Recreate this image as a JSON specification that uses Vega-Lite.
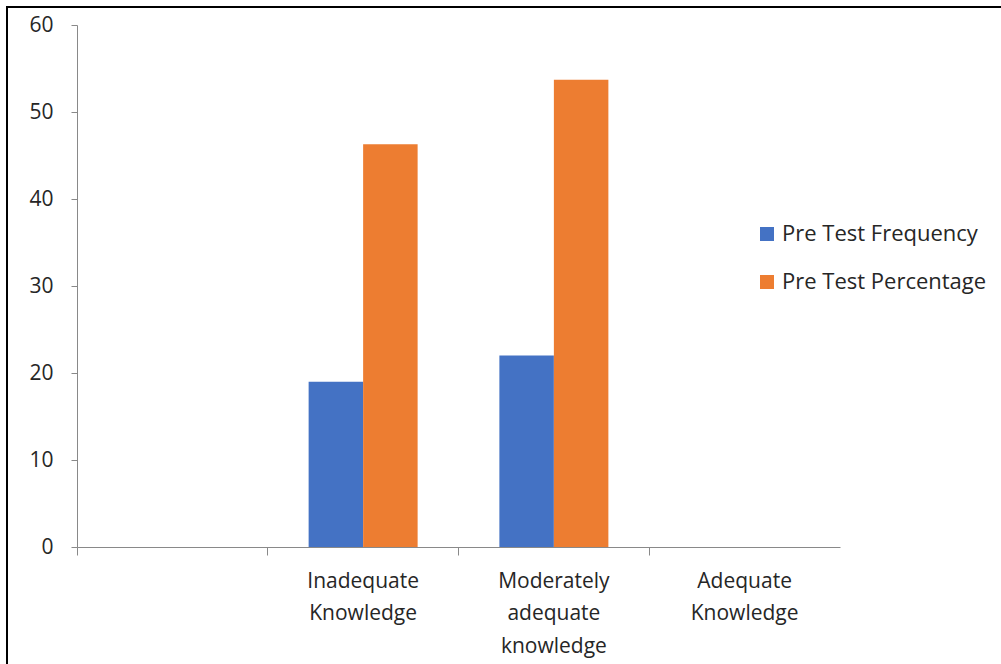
{
  "$schema": "https://vega.github.io/schema/vega-lite/v6.json",
  "autosize": "none",
  "padding": {"left": 7, "top": 7, "right": 0, "bottom": 0},
  "width": 1100,
  "height": 700,
  "background": "white",
  "data": {
    "values": [
      {"level": " ", "series": "Pre Test Frequency", "value": 0},
      {"level": " ", "series": "Pre Test Percentage", "value": 0},
      {"level": "Inadequate Knowledge", "series": "Pre Test Frequency", "value": 19},
      {"level": "Inadequate Knowledge", "series": "Pre Test Percentage", "value": 46.3},
      {"level": "Moderately adequate knowledge", "series": "Pre Test Frequency", "value": 22},
      {"level": "Moderately adequate knowledge", "series": "Pre Test Percentage", "value": 53.7},
      {"level": "Adequate Knowledge", "series": "Pre Test Frequency", "value": 0},
      {"level": "Adequate Knowledge", "series": "Pre Test Percentage", "value": 0}
    ]
  },
  "mark": {"type": "bar"},
  "encoding": {
    "x": {
      "field": "level",
      "type": "nominal",
      "sort": null,
      "title": null,
      "scale": {"range": [70, 833], "paddingInner": 0, "paddingOuter": 0},
      "axis": {
        "offset": -160,
        "bandPosition": 0,
        "labelAngle": 0,
        "labelExpr": "split(datum.label, ' ')",
        "labelLineHeight": 32.5,
        "labelPadding": 15,
        "tickSize": 8,
        "labelBaseline": "top",
        "labelFontSize": 21
      }
    },
    "xOffset": {
      "field": "series",
      "type": "nominal",
      "scale": {"paddingInner": 0, "paddingOuter": 0.75}
    },
    "y": {
      "field": "value",
      "type": "quantitative",
      "title": null,
      "scale": {"domain": [0, 60], "range": [540, 18], "nice": false},
      "axis": {
        "offset": -70,
        "values": [0, 10, 20, 30, 40, 50, 60],
        "grid": false,
        "tickSize": 6,
        "labelPadding": 18,
        "labelFontSize": 21
      }
    },
    "color": {
      "field": "series",
      "type": "nominal",
      "title": null,
      "scale": {
        "domain": ["Pre Test Frequency", "Pre Test Percentage"],
        "range": ["#4472C4", "#ED7D31"]
      },
      "legend": {
        "orient": "none",
        "legendX": 749,
        "legendY": 216,
        "symbolType": "square",
        "symbolSize": 196,
        "symbolStrokeWidth": 0,
        "labelFontSize": 22,
        "labelLimit": 0,
        "labelOffset": 4,
        "rowPadding": 26,
        "labelColor": "#262626"
      }
    }
  },
  "config": {
    "font": "Open Sans",
    "view": {"stroke": "black", "strokeWidth": 2},
    "axis": {
      "domainColor": "#898989",
      "tickColor": "#898989",
      "labelFont": "Open Sans",
      "labelColor": "#262626"
    },
    "legend": {"labelFont": "Open Sans"}
  }
}
